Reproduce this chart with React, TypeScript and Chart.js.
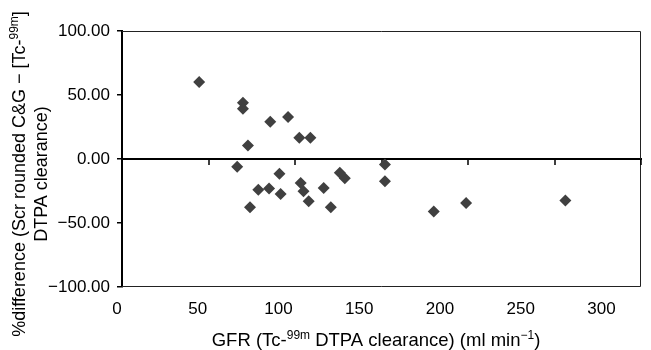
import React, { useEffect, useRef } from 'react';
import { Chart, registerables } from 'chart.js';

Chart.register(...registerables);

// GFR (Tc-99m DTPA clearance), ml/min
const gfrValues = [
  44.6, 69.9, 69.9, 85.7, 96.0, 72.8, 102.5, 108.9, 66.6, 91.0, 78.8, 85.0, 91.7,
  74.0, 103.3, 104.9, 107.9, 116.6, 120.7, 125.9, 128.8, 152.0, 152.0, 180.2, 198.9, 256.3,
];
// % difference
const diffValues = [
  60.1, 44.0, 39.3, 29.1, 32.8, 10.6, 16.6, 16.6, -6.1, -11.6, -24.1, -23.1, -27.3,
  -37.7, -18.7, -25.2, -33.0, -22.6, -37.7, -10.8, -15.0, -4.3, -17.3, -41.1, -34.3, -32.5,
];
const xTickValues = [0, 50, 100, 150, 200, 250, 300];
const yTickValues = [-100, -50, 0, 50, 100];

type Seg = { t: string; sup?: boolean };
const yTitleLines: Seg[][] = [
  [{ t: '%difference (Scr rounded C&G \u2212 [Tc-' }, { t: '99m', sup: true }, { t: ']' }],
  [{ t: 'DTPA clearance)' }],
];
const xTitle: Seg[] = [
  { t: 'GFR (Tc-' },
  { t: '99m', sup: true },
  { t: ' DTPA clearance) (ml min' },
  { t: '\u22121', sup: true },
  { t: ')' },
];

const FAMILY = '"Liberation Sans", Arial, Helvetica, sans-serif';
const TICK_SIZE = 17;
const Y_TITLE_SIZE = 18;
const X_TITLE_SIZE = 18.5;

function drawRich(ctx: CanvasRenderingContext2D, segs: Seg[], cx: number, cy: number, size: number) {
  const supSize = Math.round(size * 0.65);
  let total = 0;
  const widths = segs.map((s) => {
    ctx.font = `${s.sup ? supSize : size}px ${FAMILY}`;
    const w = ctx.measureText(s.t).width;
    total += w;
    return w;
  });
  let x = cx - total / 2;
  ctx.textBaseline = 'alphabetic';
  ctx.textAlign = 'left';
  const base = cy + size * 0.35;
  segs.forEach((s, i) => {
    ctx.font = `${s.sup ? supSize : size}px ${FAMILY}`;
    ctx.fillText(s.t, x, s.sup ? base - size * 0.42 : base);
    x += widths[i];
  });
}

const framePlugin = {
  id: 'frame',
  beforeDatasetsDraw(chart: any) {
    const { ctx, chartArea: a } = chart;
    ctx.save();
    ctx.strokeStyle = '#222';
    ctx.lineWidth = 1;
    ctx.beginPath();
    ctx.moveTo(a.left, Math.round(a.top) + 0.5);
    ctx.lineTo(Math.round(a.right) - 0.5, Math.round(a.top) + 0.5);
    ctx.lineTo(Math.round(a.right) - 0.5, Math.round(a.bottom) - 0.5);
    ctx.lineTo(a.left, Math.round(a.bottom) - 0.5);
    ctx.stroke();
    // tick marks hanging below the zero line, placed through the library's scales
    const xs = chart.scales.x;
    const y0 = Math.round(chart.scales.y.getPixelForValue(0));
    ctx.strokeStyle = '#000';
    ctx.lineWidth = 1.5;
    ctx.beginPath();
    xTickValues.forEach((v) => {
      const px = Math.round(xs.getPixelForValue(v));
      ctx.moveTo(px, y0);
      ctx.lineTo(px, y0 + 6);
    });
    ctx.stroke();
    ctx.restore();
  },
};

const titlePlugin = {
  id: 'titles',
  afterDraw(chart: any) {
    const { ctx } = chart;
    ctx.save();
    ctx.fillStyle = '#000';
    drawRich(ctx, xTitle, 376, 340, X_TITLE_SIZE);
    const centers = [19, 41];
    yTitleLines.forEach((line, i) => {
      ctx.save();
      ctx.translate(centers[i], 174);
      ctx.rotate(-Math.PI / 2);
      drawRich(ctx, line, 0, 0, Y_TITLE_SIZE);
      ctx.restore();
    });
    ctx.restore();
  },
};

export default function App() {
  const ref = useRef<HTMLCanvasElement>(null);
  useEffect(() => {
    document.body.style.margin = '0';
    const canvas = ref.current!;
    const chart = new Chart(canvas, {
      type: 'scatter',
      data: {
        datasets: [
          {
            data: gfrValues.map((x, i) => ({ x, y: diffValues[i] })),
            pointStyle: 'rectRot',
            pointRadius: 6,
            pointHoverRadius: 6,
            backgroundColor: '#404040',
            borderColor: '#404040',
            borderWidth: 0,
            xAxisID: 'x',
            yAxisID: 'y',
          },
        ],
      },
      options: {
        responsive: false,
        animation: false,
        events: [],
        layout: { padding: { top: 31, right: 10, left: 0, bottom: 0 } },
        plugins: { legend: { display: false }, tooltip: { enabled: false } },
        scales: {
          x: {
            type: 'linear',
            min: 0,
            max: 300,
            position: { y: 0 } as any,
            afterBuildTicks: (ax: any) => {
              ax.ticks = xTickValues.map((v) => ({ value: v }));
            },
            ticks: { display: false },
            grid: { display: false },
            border: { display: true, width: 2, color: '#000' },
          },
          xLabels: {
            type: 'linear',
            position: 'bottom',
            min: 3.1,
            max: 324.5,
            afterBuildTicks: (ax: any) => {
              ax.ticks = xTickValues.map((v) => ({ value: v }));
            },
            grid: { display: false, drawTicks: false },
            border: { display: false },
            ticks: {
              color: '#000',
              font: { family: FAMILY, size: TICK_SIZE },
              padding: 12,
              maxRotation: 0,
              autoSkip: false,
            },
            afterFit: (s: any) => {
              s.height = 63;
            },
          },
          y: {
            type: 'linear',
            min: -100,
            max: 100,
            position: 'left',
            afterBuildTicks: (ax: any) => {
              ax.ticks = yTickValues.map((v) => ({ value: v }));
            },
            ticks: {
              color: '#000',
              font: { family: FAMILY, size: TICK_SIZE },
              padding: 7,
              callback: (v: any) => (v < 0 ? '\u2212' : '') + Math.abs(Number(v)).toFixed(2),
            },
            grid: { display: true, drawOnChartArea: false, drawTicks: true, tickLength: 5, color: '#000', lineWidth: 1.5 },
            border: { display: true, width: 2, color: '#000' },
            afterFit: (s: any) => {
              s.width = 122;
            },
          },
        },
      } as any,
      plugins: [framePlugin, titlePlugin],
    });
    return () => chart.destroy();
  }, []);
  return <canvas ref={ref} width={651} height={350} style={{ display: 'block' }} />;
}
